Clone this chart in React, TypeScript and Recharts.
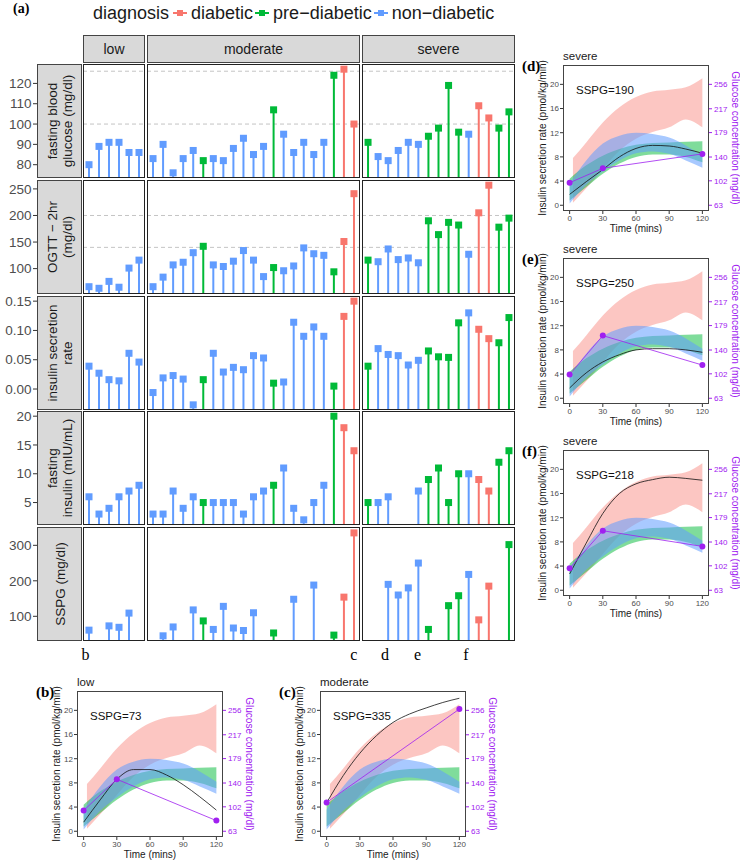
import React from 'react';
import { ScatterChart, Scatter, XAxis, YAxis, ReferenceLine, ComposedChart, Area, Line } from 'recharts';

const SANS = '"Liberation Sans", Arial, Helvetica, sans-serif';
const SERIF = '"Liberation Serif", "Times New Roman", serif';
const COLORS: Record<string, string> = { D: '#F8766D', P: '#00BA38', N: '#619CFF' };
const PURPLE = '#A020F0';

// ---- panel (a): diagnosis per subject, D = diabetic, P = pre-diabetic, N = non-diabetic
const lowDiagnosis = ['N', 'N', 'N', 'N', 'N', 'N'];
const moderateDiagnosis = ['N', 'N', 'N', 'N', 'N', 'P', 'N', 'N', 'N', 'N', 'N', 'N', 'P', 'N', 'N', 'N', 'N', 'N', 'P', 'D', 'D'];
const severeDiagnosis = ['P', 'N', 'N', 'N', 'N', 'N', 'P', 'P', 'P', 'P', 'N', 'D', 'D', 'P', 'P'];

const glucoseLow = [80, 89, 91, 91, 86, 86];
const glucoseModerate = [83, 90, 76, 83, 87, 82, 83, 82, 88, 93, 85, 89, 107, 95, 86, 91, 85, 91, 124, 127, 100];
const glucoseSevere = [91, 84, 82, 87, 91, 90, 94, 98, 119, 96, 95, 109, 103, 98, 106];

const ogttLow = [66, 63, 76, 65, 101, 116];
const ogttModerate = [66, 84, 107, 112, 130, 142, 107, 104, 114, 134, 116, 85, 102, 96, 105, 139, 128, 125, 94, 151, 241];
const ogttSevere = [116, 113, 137, 117, 120, 111, 190, 164, 187, 182, 127, 205, 257, 178, 195];

const isrLow = [0.039, 0.027, 0.016, 0.014, 0.061, 0.046];
const isrModerate = [-0.006, 0.019, 0.023, 0.017, -0.027, 0.016, 0.061, 0.029, 0.037, 0.033, 0.057, 0.053, 0.01, 0.012, 0.114, 0.09, 0.106, 0.09, 0.005, 0.124, 0.15];
const isrSevere = [0.039, 0.069, 0.059, 0.057, 0.041, 0.049, 0.065, 0.055, 0.054, 0.113, 0.13, 0.102, 0.086, 0.079, 0.122];

const insulinLow = [6, 3, 4, 6, 7, 8];
const insulinModerate = [3, 3, 7, 4, 6, 5, 5, 5, 5, 3, 6, 7, 8, 11, 4, 2, 5, 8, 20, 18, 14];
const insulinSevere = [5, 5, 6, null, null, 7, 9, 11, 5, 10, 10, 9, 7, 12, 14];

const sspgLow = [61, null, 73, 69, 109, null];
const sspgModerate = [null, 45, 70, null, 118, 87, 63, 128, 67, 60, 110, null, 53, null, 148, null, 188, null, 47, 154, 335];
const sspgSevere = [null, null, 190, 160, 180, 250, 63, null, 130, 158, 218, 90, 185, null, 302];

const ROWS = [
  { label: ['fasting blood', 'glucose (mg/dl)'], values: [glucoseLow, glucoseModerate, glucoseSevere], domain: [73.45, 129.55], ticks: [80, 90, 100, 110, 120], refs: [100, 126], fmt: (v: number) => String(v) },
  { label: ['OGTT − 2hr', '(mg/dl)'], values: [ogttLow, ogttModerate, ogttSevere], domain: [52.25, 266.75], ticks: [100, 150, 200, 250], refs: [140, 200], fmt: (v: number) => String(v) },
  { label: ['insulin secretion', 'rate'], values: [isrLow, isrModerate, isrSevere], domain: [-0.0358, 0.1588], ticks: [0, 0.05, 0.1, 0.15], refs: [], fmt: (v: number) => v.toFixed(2) },
  { label: ['fasting', 'insulin (mIU/mL)'], values: [insulinLow, insulinModerate, insulinSevere], domain: [1.1, 20.9], ticks: [5, 10, 15, 20], refs: [], fmt: (v: number) => String(v) },
  { label: ['SSPG (mg/dl)'], values: [sspgLow, sspgModerate, sspgSevere], domain: [30.4, 351.6], ticks: [100, 200, 300], refs: [], fmt: (v: number) => String(v) },
];

const COLUMNS = [
  { name: 'low', diagnosis: lowDiagnosis, x: 83, w: 62 },
  { name: 'moderate', diagnosis: moderateDiagnosis, x: 147, w: 213 },
  { name: 'severe', diagnosis: severeDiagnosis, x: 362, w: 153 },
];
const ROW_TOPS = [64, 180, 296, 411, 527];
const ROW_H = 114;
const PAD = 8;

// ---- panels (b)-(f): reference bands per diagnosis group
const CURVE_TIMES = [0, 15, 30, 45, 60, 75, 90, 105, 120];
const DIABETIC_TIMES = [3, 15, 30, 45, 60, 75, 90, 105, 120];
const GLUCOSE_TIMES = [0, 30, 120];
const ALL_TIMES = [0, 3, 15, 30, 45, 60, 75, 90, 105, 120];

const diabeticLower = [0.4, 2.8, 6.0, 9.0, 11.0, 12.1, 12.9, 14.2, 12.9];
const diabeticUpper = [7.8, 10.4, 13.7, 16.2, 17.9, 18.8, 19.1, 19.5, 21.0];
const preLower = [0.8, 3.0, 5.2, 6.9, 8.0, 8.4, 8.4, 8.0, 7.1];
const preUpper = [4.4, 6.6, 8.2, 9.3, 10.0, 10.3, 10.4, 10.5, 10.6];
const nonLower = [0.3, 3.4, 5.6, 7.4, 8.6, 8.9, 8.5, 7.4, 6.2];
const nonUpper = [3.6, 7.4, 10.2, 11.5, 12.0, 11.8, 11.2, 9.9, 8.2];

const insulinB = [1.5, 5.2, 8.6, 10.2, 10.2, 9.3, 7.7, 5.7, 3.5];
const insulinC = [4.7, 9.2, 12.9, 15.8, 18.0, 19.4, 20.4, 21.3, 22.0];
const insulinD = [1.8, 3.9, 5.9, 8.0, 9.4, 9.9, 9.8, 9.3, 8.6];
const insulinE = [1.7, 4.2, 6.0, 7.2, 8.0, 8.2, 8.2, 8.0, 7.6];
const insulinF = [2.7, 7.8, 12.7, 16.0, 17.6, 18.3, 18.7, 18.5, 18.2];

const glucoseB = [96, 146, 80];
const glucoseC = [109, null, 258];
const glucoseD = [99, 122, 145];
const glucoseE = [101, 163, 116];
const glucoseF = [98, 158, 133];

const SUBJECTS = [
  { tag: '(b)', title: 'low', sspg: 73, insulin: insulinB, glucose: glucoseB, x: 77, y: 691 },
  { tag: '(c)', title: 'moderate', sspg: 335, insulin: insulinC, glucose: glucoseC, x: 320, y: 691 },
  { tag: '(d)', title: 'severe', sspg: 190, insulin: insulinD, glucose: glucoseD, x: 563, y: 65 },
  { tag: '(e)', title: 'severe', sspg: 250, insulin: insulinE, glucose: glucoseE, x: 563, y: 258 },
  { tag: '(f)', title: 'severe', sspg: 218, insulin: insulinF, glucose: glucoseF, x: 563, y: 450 },
];

const INS_DOMAIN = [-0.95, 23.2];
const INS_TICKS = [0, 4, 8, 12, 16, 20];
const GLU_PER_UNIT = (256 - 63) / 20;
const GLU_DOMAIN = [63 + INS_DOMAIN[0] * GLU_PER_UNIT, 63 + INS_DOMAIN[1] * GLU_PER_UNIT];
const GLU_TICKS = [63, 102, 140, 179, 217, 256];
const TIME_TICKS = [0, 30, 60, 90, 120];

const LETTERS = [
  { t: 'b', x: 85.5 },
  { t: 'c', x: 353.7 },
  { t: 'd', x: 385 },
  { t: 'e', x: 417.5 },
  { t: 'f', x: 466 },
];

const LEGEND = [
  { key: 'D', label: 'diabetic' },
  { key: 'P', label: 'pre−diabetic' },
  { key: 'N', label: 'non−diabetic' },
];

const GridPanel = ({ values, diagnosis, row, width, withAxis }: any) => {
  const n = values.length;
  const data = values
    .map((v: number | null, k: number) => ({ i: k + 1, v, d: diagnosis[k] }))
    .filter((p: any) => p.v !== null);
  const axisW = withAxis ? 83 : 0;
  // segment runs from the point down to the panel floor
  const lolly = (p: any) => {
    const c = COLORS[p.payload.d];
    return (
      <g>
        <line x1={p.cx} x2={p.cx} y1={p.cy} y2={PAD + ROW_H} stroke={c} strokeWidth={2} />
        <rect x={p.cx - 3.5} y={p.cy - 3.5} width={7} height={7} fill={c} />
      </g>
    );
  };
  const tick = (p: any) => (
    <g>
      <line x1={33} x2={37} y1={p.y} y2={p.y} stroke="#333" />
      <text x={31.5} y={p.y} dy="0.35em" textAnchor="end" fontSize={13.5} fill="#4D4D4D" fontFamily={SANS}>
        {row.fmt(p.payload.value)}
      </text>
    </g>
  );
  return (
    <ScatterChart width={width + axisW} height={ROW_H + PAD} margin={{ top: PAD, right: 0, bottom: 0, left: 0 }}>
      <XAxis type="number" dataKey="i" domain={[0.4, n + 0.6]} hide allowDataOverflow />
      <YAxis type="number" dataKey="v" domain={row.domain} ticks={row.ticks} interval={0} allowDataOverflow hide={!withAxis}
        width={axisW} axisLine={false} tickLine={false} tick={tick} />
      {row.refs.map((r: number) => (
        <ReferenceLine key={r} y={r} stroke="#C4C4C4" strokeDasharray="4 3" />
      ))}
      <Scatter data={data} shape={lolly} isAnimationActive={false} />
    </ScatterChart>
  );
};

const buildCurveTable = (insulin: number[], glucose: (number | null)[]) =>
  ALL_TIMES.map((t) => {
    const ci = CURVE_TIMES.indexOf(t);
    const ri = DIABETIC_TIMES.indexOf(t);
    const gi = GLUCOSE_TIMES.indexOf(t);
    return {
      t,
      diabetic: ri >= 0 ? [diabeticLower[ri], diabeticUpper[ri]] : null,
      pre: ci >= 0 ? [preLower[ci], preUpper[ci]] : null,
      non: ci >= 0 ? [nonLower[ci], nonUpper[ci]] : null,
      ins: ci >= 0 ? insulin[ci] : null,
      glu: gi >= 0 ? glucose[gi] : null,
    };
  });

const BOX = 146;
const LEFT_W = 40;
const RIGHT_W = 40;
const TOP_PAD = 4;
const BOTTOM_H = 30;

const CurvePanel = ({ s }: any) => {
  const data = buildCurveTable(s.insulin, s.glucose);
  const tickStyle = { fontSize: 8, fill: '#4D4D4D', fontFamily: SANS };
  return (
    <>
      <div style={{ position: 'absolute', left: s.x - LEFT_W, top: s.y - TOP_PAD }}>
        <ComposedChart width={LEFT_W + BOX + RIGHT_W} height={TOP_PAD + BOX + BOTTOM_H} data={data}
          margin={{ top: TOP_PAD, right: 0, bottom: 0, left: 0 }}>
          <XAxis type="number" dataKey="t" domain={[-6, 126]} ticks={TIME_TICKS} interval={0} allowDataOverflow height={BOTTOM_H}
            tickSize={3} tickMargin={1} axisLine={false} tickLine={{ stroke: '#333' }} tick={tickStyle} />
          <YAxis yAxisId="left" type="number" domain={INS_DOMAIN} ticks={INS_TICKS} interval={0} allowDataOverflow width={LEFT_W}
            tickSize={3} tickMargin={1} axisLine={false} tickLine={{ stroke: '#333' }} tick={tickStyle} />
          <YAxis yAxisId="right" orientation="right" type="number" domain={GLU_DOMAIN} ticks={GLU_TICKS} interval={0} allowDataOverflow
            width={RIGHT_W} tickSize={3} tickMargin={2} axisLine={false} tickLine={{ stroke: PURPLE }}
            tick={{ ...tickStyle, fill: PURPLE }} />
          <Area yAxisId="left" dataKey="diabetic" type="monotone" stroke="none" fill={COLORS.D} fillOpacity={0.42}
            connectNulls isAnimationActive={false} />
          <Area yAxisId="left" dataKey="pre" type="monotone" stroke="none" fill={COLORS.P} fillOpacity={0.5}
            connectNulls isAnimationActive={false} />
          <Area yAxisId="left" dataKey="non" type="monotone" stroke="none" fill={COLORS.N} fillOpacity={0.55}
            connectNulls isAnimationActive={false} />
          <Line yAxisId="left" dataKey="ins" type="monotone" stroke="#111" strokeWidth={0.8} dot={false}
            connectNulls isAnimationActive={false} />
          <Line yAxisId="right" dataKey="glu" type="linear" stroke={PURPLE} strokeWidth={0.8}
            dot={{ r: 3, fill: PURPLE, stroke: 'none' }} connectNulls isAnimationActive={false} />
        </ComposedChart>
      </div>
      <div style={{ position: 'absolute', left: s.x, top: s.y, width: BOX, height: BOX, border: '1px solid #444', boxSizing: 'border-box', pointerEvents: 'none' }} />
      <div style={{ position: 'absolute', left: s.x, top: s.y - 17, fontSize: 11.5, color: '#1A1A1A', lineHeight: '16px' }}>{s.title}</div>
      <div style={{ position: 'absolute', left: s.x + 13, top: s.y + 17, fontSize: 11.5, color: '#111', lineHeight: '16px' }}>SSPG={s.sspg}</div>
      <div style={{ position: 'absolute', left: s.x - 41, top: s.y - 8, fontFamily: SERIF, fontWeight: 'bold', fontSize: 15, lineHeight: '18px', color: '#000' }}>{s.tag}</div>
      <div style={{ position: 'absolute', left: s.x, top: s.y + BOX + 11, width: BOX, textAlign: 'center', fontSize: 10, lineHeight: '14px', color: '#1A1A1A' }}>Time (mins)</div>
      <div style={{ position: 'absolute', left: s.x - 21, top: s.y + BOX / 2, transform: 'translate(-50%, -50%) rotate(-90deg)', whiteSpace: 'nowrap', fontSize: 10, color: '#1A1A1A' }}>
        Insulin secretion rate (pmol/kg/min)
      </div>
      <div style={{ position: 'absolute', left: s.x + BOX + 26, top: s.y + BOX / 2, transform: 'translate(-50%, -50%) rotate(90deg)', whiteSpace: 'nowrap', fontSize: 10, color: PURPLE }}>
        Glucose concentration (mg/dl)
      </div>
    </>
  );
};

export default function App() {
  return (
    <div style={{ position: 'absolute', left: 0, top: 0, width: 740, height: 861, background: '#fff', fontFamily: SANS, overflow: 'hidden' }}>
      <div style={{ position: 'absolute', left: 13, top: 1, fontFamily: SERIF, fontWeight: 'bold', fontSize: 14 }}>(a)</div>

      <div style={{ position: 'absolute', left: 93, top: 0, height: 26, display: 'flex', alignItems: 'center', fontSize: 18, color: '#1A1A1A', whiteSpace: 'nowrap' }}>
        <span>diagnosis</span>
        {LEGEND.map((l, k) => (
          <span key={l.key} style={{ display: 'flex', alignItems: 'center', marginLeft: k === 0 ? 4 : 2 }}>
            <svg width={14} height={10}>
              <line x1={0} x2={14} y1={5} y2={5} stroke={COLORS[l.key]} strokeWidth={2} />
              <rect x={4} y={2} width={6} height={6} fill={COLORS[l.key]} />
            </svg>
            <span style={{ marginLeft: 4 }}>{l.label}</span>
          </span>
        ))}
      </div>

      {COLUMNS.map((c) => (
        <div key={c.name} style={{ position: 'absolute', left: c.x, top: 35, width: c.w, height: 28, background: '#D9D9D9', border: '1px solid #444', boxSizing: 'border-box', display: 'flex', alignItems: 'center', justifyContent: 'center', fontSize: 14, color: '#1A1A1A' }}>
          {c.name}
        </div>
      ))}

      {ROWS.map((row, r) => (
        <React.Fragment key={r}>
          <div style={{ position: 'absolute', left: 37, top: ROW_TOPS[r], width: 45, height: ROW_H, background: '#D9D9D9', border: '1px solid #444', boxSizing: 'border-box' }}>
            <div style={{ position: 'absolute', left: '50%', top: '50%', transform: 'translate(-50%, -50%) rotate(-90deg)', whiteSpace: 'nowrap', textAlign: 'center', fontSize: 13.5, lineHeight: '15px', color: '#1A1A1A' }}>
              {row.label.map((t) => (
                <div key={t}>{t}</div>
              ))}
            </div>
          </div>
          {COLUMNS.map((c, k) => (
            <React.Fragment key={c.name}>
              <div style={{ position: 'absolute', left: k === 0 ? 0 : c.x, top: ROW_TOPS[r] - PAD }}>
                <GridPanel values={row.values[k]} diagnosis={c.diagnosis} row={row} width={c.w} withAxis={k === 0} />
              </div>
              <div style={{ position: 'absolute', left: c.x, top: ROW_TOPS[r], width: c.w, height: ROW_H, border: '1px solid #222', boxSizing: 'border-box', pointerEvents: 'none' }} />
            </React.Fragment>
          ))}
        </React.Fragment>
      ))}

      {LETTERS.map((l) => (
        <div key={l.t} style={{ position: 'absolute', left: l.x - 10, width: 20, top: 645, textAlign: 'center', fontFamily: SERIF, fontSize: 16, lineHeight: '20px' }}>
          {l.t}
        </div>
      ))}

      {SUBJECTS.map((s) => (
        <CurvePanel key={s.tag} s={s} />
      ))}
    </div>
  );
}
